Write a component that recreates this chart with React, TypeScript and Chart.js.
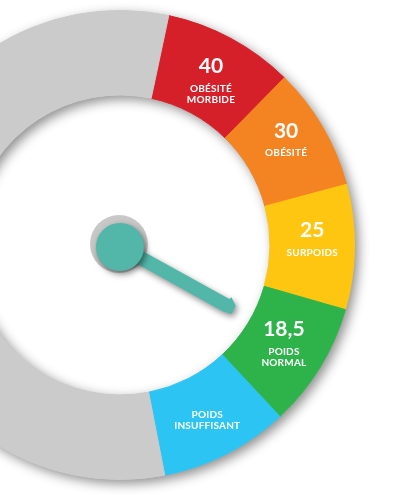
import React, { useEffect, useRef } from "react";
import { Chart, registerables } from "chart.js";

Chart.register(...registerables);

// ---- data ----
const categories = ["OBÉSITÉ MORBIDE", "OBÉSITÉ", "SURPOIDS", "POIDS NORMAL", "POIDS INSUFFISANT", ""];
const thresholdLabels = ["40", "30", "25", "18,5", "", ""];
const segmentSizes = [32.5, 30.5, 31, 31, 32, 203];
const needleValue = 107; // position on the same scale as the segments, from the start of the first one
const startRotation = 12; // degrees clockwise from top

const segmentColors = ["#d52029", "#f38421", "#fec511", "#2eb34b", "#2bc4f3", "#cbcbcb"];
// small vertical nudges of each label block (style only)
const labelNudgeY = [7, -1, 0, 0, 3, 0];

const ringShadowPlugin = {
  id: "ringShadow",
  beforeDatasetsDraw(chart: any) {
    const meta = chart.getDatasetMeta(0);
    const arc = meta.data[0];
    if (!arc) return;
    const { x, y, innerRadius, outerRadius } = arc.getProps(["x", "y", "innerRadius", "outerRadius"], true);
    const ctx = chart.ctx;
    ctx.save();
    ctx.shadowColor = "rgba(0,0,0,0.45)";
    ctx.shadowBlur = 12;
    ctx.shadowOffsetX = 4;
    ctx.shadowOffsetY = 4;
    ctx.beginPath();
    ctx.arc(x, y, outerRadius, 0, Math.PI * 2, false);
    ctx.arc(x, y, innerRadius, Math.PI * 2, 0, true);
    ctx.closePath();
    ctx.fillStyle = "#cbcbcb";
    ctx.fill("evenodd");
    ctx.restore();
  },
};

const labelsPlugin = {
  id: "segmentLabels",
  afterDatasetsDraw(chart: any) {
    const ctx = chart.ctx;
    const meta = chart.getDatasetMeta(0);
    meta.data.forEach((el: any, i: number) => {
      const name = categories[i];
      if (!name) return;
      const p = el.getProps(["x", "y", "startAngle", "endAngle", "innerRadius", "outerRadius"], true);
      const mid = (p.startAngle + p.endAngle) / 2;
      const r = (p.innerRadius + p.outerRadius) / 2;
      const cx = p.x + Math.cos(mid) * r;
      const cy = p.y + Math.sin(mid) * r + (labelNudgeY[i] || 0);
      const words = name.split(" ");
      const num = thresholdLabels[i];
      ctx.save();
      ctx.fillStyle = "#ffffff";
      ctx.textAlign = "center";
      ctx.textBaseline = "middle";
      let ty: number;
      if (num) {
        ctx.font = "bold 21px Lato";
        ctx.fillText(num, cx, cy - 16);
        ty = cy + 6;
      } else {
        ty = cy - 5;
      }
      ctx.font = "bold 10px Lato";
      (ctx as any).letterSpacing = "0.2px";
      words.forEach((w, k) => {
        ctx.fillText(w, cx, ty + k * 11);
      });
      ctx.restore();
    });
  },
};

const needlePlugin = {
  id: "needle",
  afterDraw(chart: any) {
    const meta = chart.getDatasetMeta(0);
    const arc = meta.data[0];
    if (!arc) return;
    const { x, y } = arc.getProps(["x", "y"], true);
    const total = segmentSizes.reduce((a, b) => a + b, 0);
    const deg = startRotation + (needleValue / total) * 360;
    const ang = ((deg - 90) * Math.PI) / 180;
    const ctx = chart.ctx;
    const L = 129;

    // grey hub ring
    ctx.save();
    ctx.beginPath();
    ctx.arc(x - 1, y - 1, 29, 0, Math.PI * 2);
    ctx.fillStyle = "#c8c8c8";
    ctx.fill();
    ctx.restore();

    // needle
    ctx.save();
    ctx.translate(x + 1, y + 2);
    ctx.rotate(ang);
    ctx.shadowColor = "rgba(0,0,0,0.45)";
    ctx.shadowBlur = 6;
    ctx.shadowOffsetX = 2;
    ctx.shadowOffsetY = 3;
    ctx.beginPath();
    ctx.moveTo(0, -7);
    ctx.lineTo(L - 9, -7);
    ctx.lineTo(L - 8, -9.5);
    ctx.lineTo(L, -4);
    ctx.lineTo(L, 5);
    ctx.lineTo(L - 9, 7);
    ctx.lineTo(0, 7);
    ctx.closePath();
    ctx.fillStyle = "#52b6a8";
    ctx.fill();
    ctx.restore();

    // teal hub
    ctx.save();
    ctx.shadowColor = "rgba(0,0,0,0.5)";
    ctx.shadowBlur = 6;
    ctx.shadowOffsetX = 2;
    ctx.shadowOffsetY = 3;
    ctx.beginPath();
    ctx.arc(x, y + 2, 24, 0, Math.PI * 2);
    ctx.fillStyle = "#52b6a8";
    ctx.fill();
    ctx.restore();
  },
};

export default function App() {
  const ref = useRef<HTMLCanvasElement | null>(null);

  useEffect(() => {
    document.body.style.margin = "0";
    const canvas = ref.current;
    if (!canvas) return;
    const chart = new Chart(canvas, {
      type: "doughnut",
      data: {
        labels: categories,
        datasets: [
          {
            data: segmentSizes,
            backgroundColor: segmentColors,
            borderColor: segmentColors,
            borderWidth: 1,
            hoverOffset: 0,
          },
        ],
      },
      options: {
        responsive: false,
        animation: false,
        devicePixelRatio: 1,
        rotation: startRotation,
        cutout: 150,
        layout: { padding: 15 },
        plugins: {
          legend: { display: false },
          tooltip: { enabled: false },
        },
        events: [],
      },
      plugins: [ringShadowPlugin, labelsPlugin, needlePlugin],
    });
    return () => chart.destroy();
  }, []);

  return (
    <div
      style={{
        position: "fixed",
        left: 0,
        top: 0,
        width: 400,
        height: 500,
        overflow: "hidden",
        background: "#ffffff",
      }}
    >
      <canvas
        ref={ref}
        width={500}
        height={500}
        style={{ position: "absolute", left: -130, top: -5, width: 500, height: 500 }}
      />
    </div>
  );
}
